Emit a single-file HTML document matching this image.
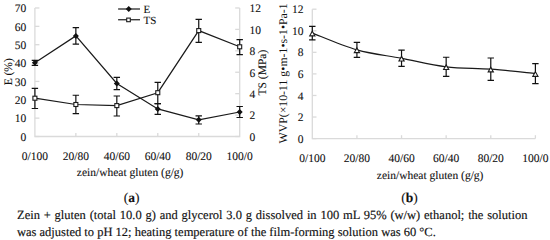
<!DOCTYPE html><html><head><meta charset="utf-8"><style>
html,body{margin:0;padding:0;background:#fff;width:550px;height:240px;overflow:hidden}
svg{display:block}
text{font-family:"Liberation Serif",serif;fill:#111;stroke:#111;stroke-width:0.1px;paint-order:stroke;text-rendering:geometricPrecision}
</style></head><body>
<svg width="550" height="240" viewBox="0 0 550 240">
<g stroke="#dadada" stroke-width="1.3" fill="none">
<path d="M34.9,7.98 V136.5 H239.7 V7.98"/>
<path d="M34.9,136.50 h4.5"/>
<path d="M34.9,118.14 h4.5"/>
<path d="M34.9,99.78 h4.5"/>
<path d="M34.9,81.42 h4.5"/>
<path d="M34.9,63.06 h4.5"/>
<path d="M34.9,44.70 h4.5"/>
<path d="M34.9,26.34 h4.5"/>
<path d="M34.9,7.98 h4.5"/>
<path d="M239.7,136.50 h-4.5"/>
<path d="M239.7,115.08 h-4.5"/>
<path d="M239.7,93.66 h-4.5"/>
<path d="M239.7,72.24 h-4.5"/>
<path d="M239.7,50.82 h-4.5"/>
<path d="M239.7,29.40 h-4.5"/>
<path d="M239.7,7.98 h-4.5"/>
<path d="M75.86,136.5 v-3.6"/>
<path d="M116.82,136.5 v-3.6"/>
<path d="M157.78,136.5 v-3.6"/>
<path d="M198.74,136.5 v-3.6"/>
</g>
<text x="26.30" y="140.80" font-size="11.5" text-anchor="end" >0</text>
<text x="26.30" y="122.44" font-size="11.5" text-anchor="end" >10</text>
<text x="26.30" y="104.08" font-size="11.5" text-anchor="end" >20</text>
<text x="26.30" y="85.72" font-size="11.5" text-anchor="end" >30</text>
<text x="26.30" y="67.36" font-size="11.5" text-anchor="end" >40</text>
<text x="26.30" y="49.00" font-size="11.5" text-anchor="end" >50</text>
<text x="26.30" y="30.64" font-size="11.5" text-anchor="end" >60</text>
<text x="26.30" y="12.28" font-size="11.5" text-anchor="end" >70</text>
<text x="249.50" y="140.80" font-size="11.5" text-anchor="start" >0</text>
<text x="249.50" y="119.38" font-size="11.5" text-anchor="start" >2</text>
<text x="249.50" y="97.96" font-size="11.5" text-anchor="start" >4</text>
<text x="249.50" y="76.54" font-size="11.5" text-anchor="start" >6</text>
<text x="249.50" y="55.12" font-size="11.5" text-anchor="start" >8</text>
<text x="249.50" y="33.70" font-size="11.5" text-anchor="start" >10</text>
<text x="249.50" y="12.28" font-size="11.5" text-anchor="start" >12</text>
<text x="34.90" y="159.70" font-size="11.5" text-anchor="middle" >0/100</text>
<text x="75.86" y="159.70" font-size="11.5" text-anchor="middle" >20/80</text>
<text x="116.82" y="159.70" font-size="11.5" text-anchor="middle" >40/60</text>
<text x="157.78" y="159.70" font-size="11.5" text-anchor="middle" >60/40</text>
<text x="198.74" y="159.70" font-size="11.5" text-anchor="middle" >80/20</text>
<text x="239.70" y="159.70" font-size="11.5" text-anchor="middle" >100/0</text>
<text x="76.80" y="176.00" font-size="11.5" text-anchor="start" >zein/wheat gluten (g/g)</text>
<text transform="translate(12.0,71.8) rotate(-90)" font-size="11.5" text-anchor="middle">E (%)</text>
<text transform="translate(265.8,72.6) rotate(-90)" font-size="11.5" text-anchor="middle">TS (MPa)</text>
<path d="M34.90,62.80 L75.86,35.90 L116.82,83.50 L157.78,108.90 L198.74,119.80 L239.70,112.00" stroke="#1a1a1a" stroke-width="1.2" fill="none"/>
<path d="M34.90,98.20 L75.86,104.50 L116.82,105.60 L157.78,92.70 L198.74,30.60 L239.70,46.80" stroke="#1a1a1a" stroke-width="1.2" fill="none"/>
<path d="M34.90,60.30 V65.30 M31.70,60.30 h6.4 M31.70,65.30 h6.4" stroke="#111" stroke-width="1.2" fill="none"/>
<path d="M75.86,27.60 V44.20 M72.66,27.60 h6.4 M72.66,44.20 h6.4" stroke="#111" stroke-width="1.2" fill="none"/>
<path d="M116.82,77.40 V89.70 M113.62,77.40 h6.4 M113.62,89.70 h6.4" stroke="#111" stroke-width="1.2" fill="none"/>
<path d="M157.78,103.60 V114.30 M154.58,103.60 h6.4 M154.58,114.30 h6.4" stroke="#111" stroke-width="1.2" fill="none"/>
<path d="M198.74,115.80 V124.00 M195.54,115.80 h6.4 M195.54,124.00 h6.4" stroke="#111" stroke-width="1.2" fill="none"/>
<path d="M239.70,106.50 V117.50 M236.50,106.50 h6.4 M236.50,117.50 h6.4" stroke="#111" stroke-width="1.2" fill="none"/>
<path d="M34.90,88.40 V108.50 M31.70,88.40 h6.4 M31.70,108.50 h6.4" stroke="#111" stroke-width="1.2" fill="none"/>
<path d="M75.86,95.25 V113.70 M72.66,95.25 h6.4 M72.66,113.70 h6.4" stroke="#111" stroke-width="1.2" fill="none"/>
<path d="M116.82,96.00 V116.00 M113.62,96.00 h6.4 M113.62,116.00 h6.4" stroke="#111" stroke-width="1.2" fill="none"/>
<path d="M157.78,82.30 V103.60 M154.58,82.30 h6.4 M154.58,103.60 h6.4" stroke="#111" stroke-width="1.2" fill="none"/>
<path d="M198.74,19.30 V42.30 M195.54,19.30 h6.4 M195.54,42.30 h6.4" stroke="#111" stroke-width="1.2" fill="none"/>
<path d="M239.70,39.60 V54.60 M236.50,39.60 h6.4 M236.50,54.60 h6.4" stroke="#111" stroke-width="1.2" fill="none"/>
<path d="M34.90,59.80 L37.90,62.80 L34.90,65.80 L31.90,62.80Z" fill="#111"/>
<path d="M75.86,32.90 L78.86,35.90 L75.86,38.90 L72.86,35.90Z" fill="#111"/>
<path d="M116.82,80.50 L119.82,83.50 L116.82,86.50 L113.82,83.50Z" fill="#111"/>
<path d="M157.78,105.90 L160.78,108.90 L157.78,111.90 L154.78,108.90Z" fill="#111"/>
<path d="M198.74,116.80 L201.74,119.80 L198.74,122.80 L195.74,119.80Z" fill="#111"/>
<path d="M239.70,109.00 L242.70,112.00 L239.70,115.00 L236.70,112.00Z" fill="#111"/>
<rect x="32.90" y="96.20" width="4.0" height="4.0" fill="#fff" stroke="#1a1a1a" stroke-width="1.1"/>
<rect x="73.86" y="102.50" width="4.0" height="4.0" fill="#fff" stroke="#1a1a1a" stroke-width="1.1"/>
<rect x="114.82" y="103.60" width="4.0" height="4.0" fill="#fff" stroke="#1a1a1a" stroke-width="1.1"/>
<rect x="155.78" y="90.70" width="4.0" height="4.0" fill="#fff" stroke="#1a1a1a" stroke-width="1.1"/>
<rect x="196.74" y="28.60" width="4.0" height="4.0" fill="#fff" stroke="#1a1a1a" stroke-width="1.1"/>
<rect x="237.70" y="44.80" width="4.0" height="4.0" fill="#fff" stroke="#1a1a1a" stroke-width="1.1"/>
<line x1="118.10" y1="9.00" x2="140.00" y2="9.00" stroke="#1a1a1a" stroke-width="1.2"/>
<path d="M128.75,6.00 L131.75,9.00 L128.75,12.00 L125.75,9.00Z" fill="#111"/>
<line x1="118.10" y1="19.75" x2="140.00" y2="19.75" stroke="#1a1a1a" stroke-width="1.2"/>
<rect x="126.70" y="18.10" width="3.6" height="3.6" fill="#fff" stroke="#1a1a1a" stroke-width="1.1"/>
<text x="143.40" y="12.90" font-size="11" text-anchor="start" >E</text>
<text x="143.60" y="23.80" font-size="11" text-anchor="start" >TS</text>
<g stroke="#dadada" stroke-width="1.3" fill="none">
<path d="M312.3,9.20 V138.6 H535.4"/>
<path d="M312.3,138.60 h4.2"/>
<path d="M312.3,117.03 h4.2"/>
<path d="M312.3,95.47 h4.2"/>
<path d="M312.3,73.90 h4.2"/>
<path d="M312.3,52.33 h4.2"/>
<path d="M312.3,30.77 h4.2"/>
<path d="M312.3,9.20 h4.2"/>
<path d="M356.92,138.6 v-3.4"/>
<path d="M401.54,138.6 v-3.4"/>
<path d="M446.16,138.6 v-3.4"/>
<path d="M490.78,138.6 v-3.4"/>
<path d="M535.40,138.6 v-3.4"/>
</g>
<text x="303.40" y="142.70" font-size="11.5" text-anchor="end" >0</text>
<text x="303.40" y="121.13" font-size="11.5" text-anchor="end" >2</text>
<text x="303.40" y="99.57" font-size="11.5" text-anchor="end" >4</text>
<text x="303.40" y="78.00" font-size="11.5" text-anchor="end" >6</text>
<text x="303.40" y="56.43" font-size="11.5" text-anchor="end" >8</text>
<text x="303.40" y="34.87" font-size="11.5" text-anchor="end" >10</text>
<text x="303.40" y="13.30" font-size="11.5" text-anchor="end" >12</text>
<text x="312.30" y="161.90" font-size="11.5" text-anchor="middle" >0/100</text>
<text x="356.92" y="161.90" font-size="11.5" text-anchor="middle" >20/80</text>
<text x="401.54" y="161.90" font-size="11.5" text-anchor="middle" >40/60</text>
<text x="446.16" y="161.90" font-size="11.5" text-anchor="middle" >60/40</text>
<text x="490.78" y="161.90" font-size="11.5" text-anchor="middle" >80/20</text>
<text x="535.40" y="161.90" font-size="11.5" text-anchor="middle" >100/0</text>
<text x="376.80" y="179.30" font-size="11.5" text-anchor="start" >zein/wheat gluten (g/g)</text>
<text transform="translate(287.2,73.4) rotate(-90)" font-size="11.8" text-anchor="middle" style="stroke:none">WVP(×10-11 g•m-1•s-1•Pa-1</text>
<path d="M312.30,33.10 C319.74,35.89 342.05,45.65 356.92,49.85 C371.79,54.05 386.67,55.47 401.54,58.30 C416.41,61.12 431.29,64.99 446.16,66.80 C461.03,68.61 475.91,68.02 490.78,69.15 C505.65,70.28 527.96,72.86 535.40,73.60" stroke="#1a1a1a" stroke-width="1.2" fill="none"/>
<path d="M312.30,26.30 V39.90 M309.10,26.30 h6.4 M309.10,39.90 h6.4" stroke="#111" stroke-width="1.2" fill="none"/>
<path d="M356.92,42.30 V57.40 M353.72,42.30 h6.4 M353.72,57.40 h6.4" stroke="#111" stroke-width="1.2" fill="none"/>
<path d="M401.54,50.20 V66.40 M398.34,50.20 h6.4 M398.34,66.40 h6.4" stroke="#111" stroke-width="1.2" fill="none"/>
<path d="M446.16,57.25 V76.30 M442.96,57.25 h6.4 M442.96,76.30 h6.4" stroke="#111" stroke-width="1.2" fill="none"/>
<path d="M490.78,58.00 V80.30 M487.58,58.00 h6.4 M487.58,80.30 h6.4" stroke="#111" stroke-width="1.2" fill="none"/>
<path d="M535.40,63.60 V83.60 M532.20,63.60 h6.4 M532.20,83.60 h6.4" stroke="#111" stroke-width="1.2" fill="none"/>
<path d="M312.30,31.16 L314.90,35.84 L309.70,35.84Z" fill="#fff" stroke="#1a1a1a" stroke-width="1.1" stroke-linejoin="miter"/>
<path d="M356.92,47.91 L359.52,52.59 L354.32,52.59Z" fill="#fff" stroke="#1a1a1a" stroke-width="1.1" stroke-linejoin="miter"/>
<path d="M401.54,56.36 L404.14,61.04 L398.94,61.04Z" fill="#fff" stroke="#1a1a1a" stroke-width="1.1" stroke-linejoin="miter"/>
<path d="M446.16,64.86 L448.76,69.54 L443.56,69.54Z" fill="#fff" stroke="#1a1a1a" stroke-width="1.1" stroke-linejoin="miter"/>
<path d="M490.78,67.21 L493.38,71.89 L488.18,71.89Z" fill="#fff" stroke="#1a1a1a" stroke-width="1.1" stroke-linejoin="miter"/>
<path d="M535.40,71.66 L538.00,76.34 L532.80,76.34Z" fill="#fff" stroke="#1a1a1a" stroke-width="1.1" stroke-linejoin="miter"/>
<text x="131.65" y="201.8" font-size="13.5" text-anchor="middle">(<tspan font-weight="bold">a</tspan>)</text>
<text x="409.5" y="201.8" font-size="13.5" text-anchor="middle">(<tspan font-weight="bold">b</tspan>)</text>
</svg>
<div style="position:absolute;left:17px;top:0;width:510.5px;font-family:'Liberation Serif',serif;font-size:12.5px;color:#111;text-rendering:geometricPrecision;-webkit-text-stroke:0.15px #111;">
<div style="position:absolute;top:206.6px;left:0;width:510.5px;text-align:justify;text-align-last:justify;white-space:nowrap;line-height:17px">Zein + gluten (total 10.0 g) and glycerol 3.0 g dissolved in 100 mL 95% (w/w) ethanol; the solution</div>
<div style="position:absolute;top:224.4px;left:0;white-space:nowrap;line-height:17px">was adjusted to pH 12; heating temperature of the film-forming solution was 60 °C.</div>
</div>
</body></html>
